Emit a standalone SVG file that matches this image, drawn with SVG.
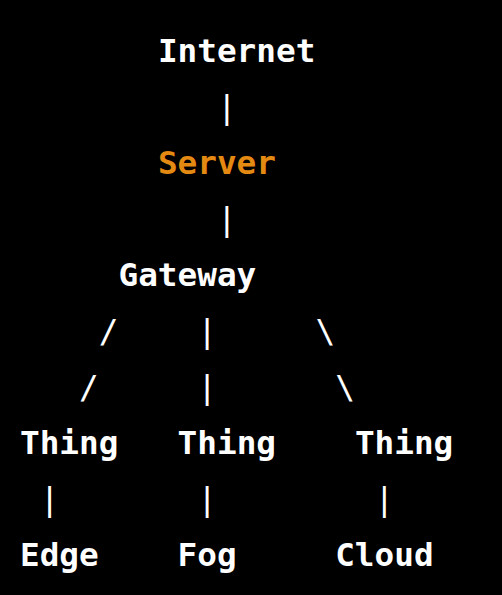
<svg xmlns="http://www.w3.org/2000/svg" width="502" height="595" viewBox="0 0 502 595">
<style>
text{font-family:"DejaVu Sans Mono","Liberation Mono",monospace;font-size:32.7px;font-weight:bold;fill:#ffffff}
.pipe{font-weight:normal}
.hl{fill:#e48a12}
</style>
<rect width="502" height="595" fill="#000000"/>
<g id="connectors">
<text class="pipe" x="217" y="117.5">|</text>
<text class="pipe" x="217" y="229.5">|</text>
<text class="pipe" x="98.8" y="341.5">/</text>
<text class="pipe" x="197.3" y="341.5">|</text>
<text class="pipe" x="315.5" y="341.5">\</text>
<text class="pipe" x="79.1" y="397.5">/</text>
<text class="pipe" x="197.3" y="397.5">|</text>
<text class="pipe" x="335.2" y="397.5">\</text>
<text class="pipe" x="39.7" y="509.5">|</text>
<text class="pipe" x="197.3" y="509.5">|</text>
<text class="pipe" x="374.6" y="509.5">|</text>
</g>
<g id="internet"><text x="157.9" y="61.5">Internet</text></g>
<g id="server"><text class="hl" x="157.9" y="173.5">Server</text></g>
<g id="gateway"><text x="118.5" y="285.5">Gateway</text></g>
<g id="thing1"><text x="20" y="453.5">Thing</text></g>
<g id="thing2"><text x="177.6" y="453.5">Thing</text></g>
<g id="thing3"><text x="354.9" y="453.5">Thing</text></g>
<g id="edge"><text x="20" y="565.5">Edge</text></g>
<g id="fog"><text x="177.6" y="565.5">Fog</text></g>
<g id="cloud"><text x="335.2" y="565.5">Cloud</text></g>
</svg>
